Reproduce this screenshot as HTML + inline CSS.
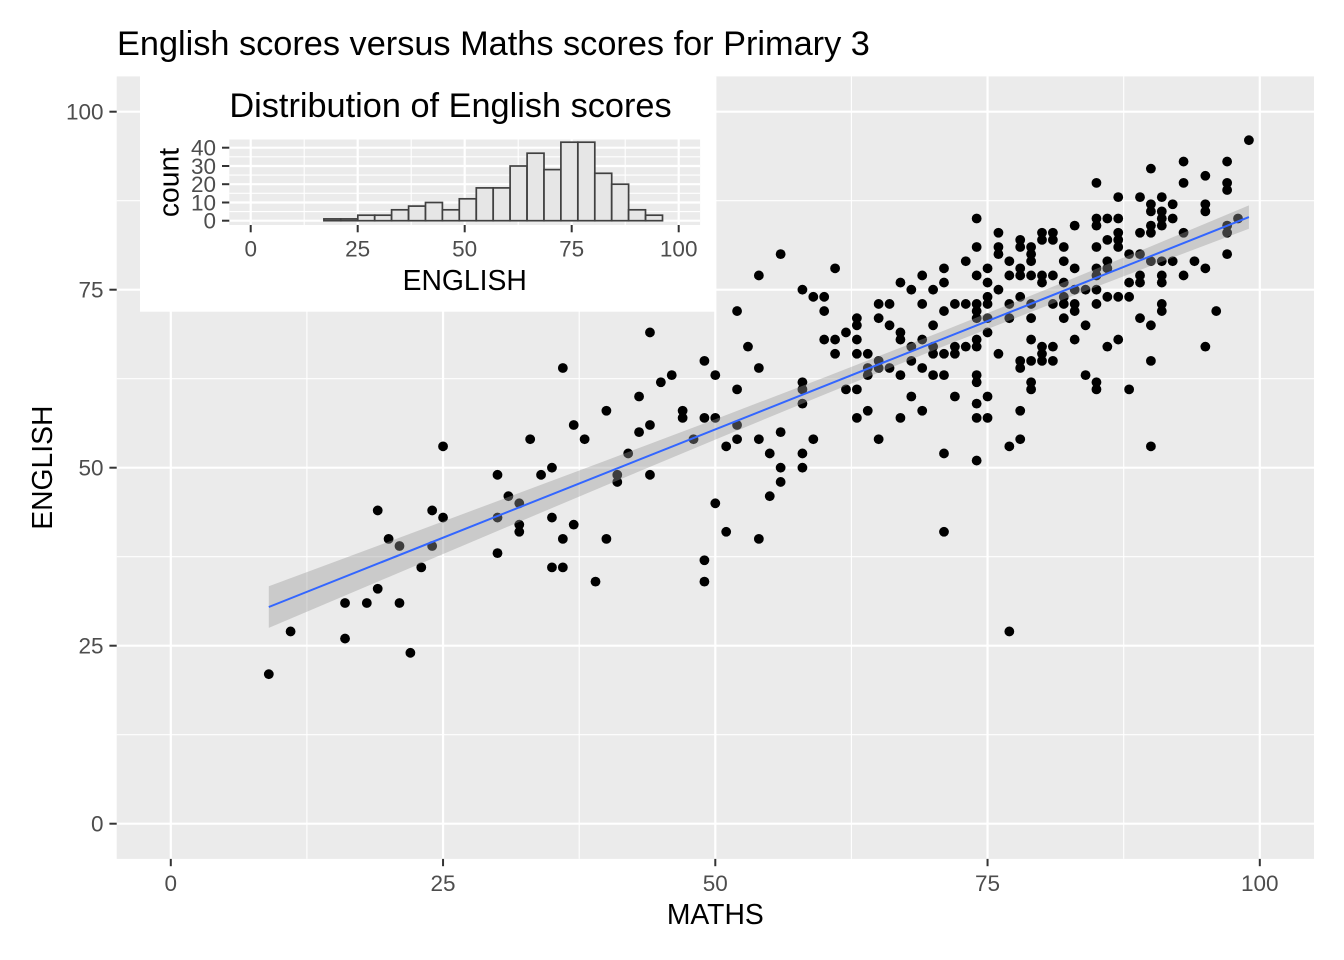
<!DOCTYPE html>
<html><head><meta charset="utf-8"><style>
html,body{margin:0;padding:0;background:#fff}
svg{display:block}
text{font-family:"Liberation Sans",Arial,sans-serif}
</style></head><body>
<svg width="1344" height="960" viewBox="0 0 1344 960" xmlns="http://www.w3.org/2000/svg">
<defs><ellipse id="p" rx=".45" ry=".688" fill="#000"/></defs>
<rect width="1344" height="960" fill="#fff"/>
<!-- main panel -->
<rect x="116.7" y="76.4" width="1197.3" height="782.5" fill="#EBEBEB"/>
<g stroke="#fff" stroke-width="1.1">
<line x1="306.9" y1="76.4" x2="306.9" y2="858.9"/><line x1="579.2" y1="76.4" x2="579.2" y2="858.9"/><line x1="851.4" y1="76.4" x2="851.4" y2="858.9"/><line x1="1123.7" y1="76.4" x2="1123.7" y2="858.9"/>
<line x1="116.7" y1="734.7" x2="1314" y2="734.7"/><line x1="116.7" y1="556.7" x2="1314" y2="556.7"/><line x1="116.7" y1="378.7" x2="1314" y2="378.7"/><line x1="116.7" y1="200.7" x2="1314" y2="200.7"/>
</g>
<g stroke="#fff" stroke-width="2.2">
<line x1="170.8" y1="76.4" x2="170.8" y2="858.9"/><line x1="443.05" y1="76.4" x2="443.05" y2="858.9"/><line x1="715.3" y1="76.4" x2="715.3" y2="858.9"/><line x1="987.55" y1="76.4" x2="987.55" y2="858.9"/><line x1="1259.8" y1="76.4" x2="1259.8" y2="858.9"/>
<line x1="116.7" y1="823.7" x2="1314" y2="823.7"/><line x1="116.7" y1="645.7" x2="1314" y2="645.7"/><line x1="116.7" y1="467.7" x2="1314" y2="467.7"/><line x1="116.7" y1="289.7" x2="1314" y2="289.7"/><line x1="116.7" y1="111.7" x2="1314" y2="111.7"/>
</g>
<g transform="translate(170.8 823.7) scale(10.89 -7.12)">
<use href="#p" x="9" y="21"/><use href="#p" x="11" y="27"/><use href="#p" x="16" y="26"/><use href="#p" x="16" y="31"/><use href="#p" x="18" y="31"/><use href="#p" x="19" y="33"/><use href="#p" x="19" y="44"/><use href="#p" x="20" y="40"/><use href="#p" x="21" y="39"/><use href="#p" x="21" y="31"/><use href="#p" x="22" y="24"/><use href="#p" x="23" y="36"/><use href="#p" x="24" y="44"/><use href="#p" x="24" y="39"/><use href="#p" x="25" y="53"/><use href="#p" x="25" y="43"/><use href="#p" x="30" y="49"/><use href="#p" x="30" y="43"/><use href="#p" x="30" y="38"/><use href="#p" x="31" y="46"/><use href="#p" x="32" y="45"/><use href="#p" x="32" y="42"/><use href="#p" x="32" y="41"/><use href="#p" x="33" y="54"/><use href="#p" x="34" y="49"/><use href="#p" x="35" y="50"/><use href="#p" x="35" y="43"/><use href="#p" x="35" y="36"/><use href="#p" x="36" y="64"/><use href="#p" x="36" y="40"/><use href="#p" x="36" y="36"/><use href="#p" x="37" y="56"/><use href="#p" x="37" y="42"/><use href="#p" x="38" y="54"/><use href="#p" x="39" y="34"/><use href="#p" x="40" y="58"/><use href="#p" x="40" y="40"/><use href="#p" x="41" y="49"/><use href="#p" x="41" y="48"/><use href="#p" x="42" y="52"/><use href="#p" x="43" y="60"/><use href="#p" x="43" y="55"/>
<use href="#p" x="56" y="80"/><use href="#p" x="61" y="78"/><use href="#p" x="54" y="77"/><use href="#p" x="58" y="75"/><use href="#p" x="59" y="74"/><use href="#p" x="60" y="74"/><use href="#p" x="60" y="72"/><use href="#p" x="52" y="72"/><use href="#p" x="62" y="69"/><use href="#p" x="44" y="69"/><use href="#p" x="60" y="68"/><use href="#p" x="61" y="68"/><use href="#p" x="53" y="67"/><use href="#p" x="61" y="66"/><use href="#p" x="49" y="65"/><use href="#p" x="54" y="64"/><use href="#p" x="46" y="63"/><use href="#p" x="50" y="63"/><use href="#p" x="45" y="62"/><use href="#p" x="58" y="62"/><use href="#p" x="52" y="61"/><use href="#p" x="58" y="61"/><use href="#p" x="62" y="61"/><use href="#p" x="58" y="59"/><use href="#p" x="47" y="58"/><use href="#p" x="47" y="57"/><use href="#p" x="49" y="57"/><use href="#p" x="50" y="57"/><use href="#p" x="44" y="56"/><use href="#p" x="52" y="56"/><use href="#p" x="56" y="55"/><use href="#p" x="48" y="54"/><use href="#p" x="52" y="54"/><use href="#p" x="54" y="54"/><use href="#p" x="59" y="54"/><use href="#p" x="51" y="53"/><use href="#p" x="55" y="52"/><use href="#p" x="58" y="52"/><use href="#p" x="56" y="50"/><use href="#p" x="58" y="50"/><use href="#p" x="44" y="49"/><use href="#p" x="56" y="48"/><use href="#p" x="55" y="46"/><use href="#p" x="50" y="45"/><use href="#p" x="51" y="41"/><use href="#p" x="54" y="40"/><use href="#p" x="49" y="37"/><use href="#p" x="49" y="34"/>
<use href="#p" x="74" y="85"/><use href="#p" x="76" y="83"/><use href="#p" x="78" y="82"/><use href="#p" x="74" y="81"/><use href="#p" x="76" y="81"/><use href="#p" x="78" y="81"/><use href="#p" x="79" y="81"/><use href="#p" x="76" y="80"/><use href="#p" x="79" y="80"/><use href="#p" x="73" y="79"/><use href="#p" x="77" y="79"/><use href="#p" x="79" y="79"/><use href="#p" x="71" y="78"/><use href="#p" x="75" y="78"/><use href="#p" x="78" y="78"/><use href="#p" x="69" y="77"/><use href="#p" x="74" y="77"/><use href="#p" x="77" y="77"/><use href="#p" x="78" y="77"/><use href="#p" x="79" y="77"/><use href="#p" x="67" y="76"/><use href="#p" x="71" y="76"/><use href="#p" x="75" y="76"/><use href="#p" x="68" y="75"/><use href="#p" x="70" y="75"/><use href="#p" x="76" y="75"/><use href="#p" x="75" y="74"/><use href="#p" x="78" y="74"/><use href="#p" x="65" y="73"/><use href="#p" x="66" y="73"/><use href="#p" x="69" y="73"/><use href="#p" x="72" y="73"/><use href="#p" x="73" y="73"/><use href="#p" x="74" y="73"/><use href="#p" x="75" y="73"/><use href="#p" x="77" y="73"/><use href="#p" x="79" y="73"/><use href="#p" x="74" y="72"/><use href="#p" x="71" y="72"/><use href="#p" x="63" y="71"/><use href="#p" x="65" y="71"/><use href="#p" x="74" y="71"/><use href="#p" x="75" y="71"/><use href="#p" x="77" y="71"/><use href="#p" x="79" y="71"/><use href="#p" x="63" y="70"/><use href="#p" x="66" y="70"/><use href="#p" x="70" y="70"/><use href="#p" x="67" y="69"/><use href="#p" x="75" y="69"/><use href="#p" x="63" y="68"/><use href="#p" x="67" y="68"/><use href="#p" x="69" y="68"/><use href="#p" x="74" y="68"/><use href="#p" x="79" y="68"/><use href="#p" x="68" y="67"/><use href="#p" x="70" y="67"/><use href="#p" x="72" y="67"/><use href="#p" x="73" y="67"/><use href="#p" x="74" y="67"/><use href="#p" x="63" y="66"/><use href="#p" x="64" y="66"/><use href="#p" x="70" y="66"/><use href="#p" x="71" y="66"/><use href="#p" x="72" y="66"/><use href="#p" x="76" y="66"/><use href="#p" x="64" y="64"/><use href="#p" x="64" y="63"/><use href="#p" x="65" y="65"/><use href="#p" x="65" y="64"/><use href="#p" x="66" y="64"/><use href="#p" x="68" y="65"/><use href="#p" x="69" y="64"/><use href="#p" x="67" y="63"/><use href="#p" x="70" y="63"/><use href="#p" x="71" y="63"/><use href="#p" x="74" y="63"/><use href="#p" x="74" y="62"/><use href="#p" x="78" y="65"/><use href="#p" x="78" y="64"/><use href="#p" x="79" y="65"/><use href="#p" x="79" y="62"/><use href="#p" x="79" y="61"/><use href="#p" x="63" y="61"/><use href="#p" x="68" y="60"/><use href="#p" x="72" y="60"/><use href="#p" x="75" y="60"/><use href="#p" x="74" y="59"/><use href="#p" x="64" y="58"/><use href="#p" x="69" y="58"/><use href="#p" x="78" y="58"/><use href="#p" x="63" y="57"/><use href="#p" x="67" y="57"/><use href="#p" x="74" y="57"/><use href="#p" x="75" y="57"/><use href="#p" x="65" y="54"/><use href="#p" x="78" y="54"/><use href="#p" x="77" y="53"/><use href="#p" x="71" y="52"/><use href="#p" x="74" y="51"/><use href="#p" x="71" y="41"/><use href="#p" x="77" y="27"/>
<use href="#p" x="99" y="96"/><use href="#p" x="93" y="93"/><use href="#p" x="97" y="93"/><use href="#p" x="90" y="92"/><use href="#p" x="95" y="91"/><use href="#p" x="85" y="90"/><use href="#p" x="93" y="90"/><use href="#p" x="97" y="90"/><use href="#p" x="97" y="89"/><use href="#p" x="87" y="88"/><use href="#p" x="89" y="88"/><use href="#p" x="91" y="88"/><use href="#p" x="90" y="87"/><use href="#p" x="92" y="87"/><use href="#p" x="95" y="87"/><use href="#p" x="90" y="86"/><use href="#p" x="91" y="86"/><use href="#p" x="95" y="86"/><use href="#p" x="85" y="85"/><use href="#p" x="86" y="85"/><use href="#p" x="87" y="85"/><use href="#p" x="91" y="85"/><use href="#p" x="92" y="85"/><use href="#p" x="98" y="85"/><use href="#p" x="83" y="84"/><use href="#p" x="85" y="84"/><use href="#p" x="90" y="84"/><use href="#p" x="91" y="84"/><use href="#p" x="97" y="84"/><use href="#p" x="80" y="83"/><use href="#p" x="81" y="83"/><use href="#p" x="87" y="83"/><use href="#p" x="89" y="83"/><use href="#p" x="90" y="83"/><use href="#p" x="93" y="83"/><use href="#p" x="97" y="83"/><use href="#p" x="80" y="82"/><use href="#p" x="81" y="82"/><use href="#p" x="86" y="82"/><use href="#p" x="87" y="82"/><use href="#p" x="82" y="81"/><use href="#p" x="85" y="81"/><use href="#p" x="87" y="81"/><use href="#p" x="88" y="80"/><use href="#p" x="89" y="80"/><use href="#p" x="97" y="80"/><use href="#p" x="82" y="79"/><use href="#p" x="86" y="79"/><use href="#p" x="90" y="79"/><use href="#p" x="91" y="79"/><use href="#p" x="92" y="79"/><use href="#p" x="94" y="79"/><use href="#p" x="83" y="78"/><use href="#p" x="85" y="78"/><use href="#p" x="86" y="78"/><use href="#p" x="95" y="78"/><use href="#p" x="80" y="77"/><use href="#p" x="81" y="77"/><use href="#p" x="85" y="77"/><use href="#p" x="89" y="77"/><use href="#p" x="91" y="77"/><use href="#p" x="93" y="77"/><use href="#p" x="80" y="76"/><use href="#p" x="82" y="76"/><use href="#p" x="88" y="76"/><use href="#p" x="89" y="76"/><use href="#p" x="91" y="76"/><use href="#p" x="83" y="75"/><use href="#p" x="84" y="75"/><use href="#p" x="85" y="75"/><use href="#p" x="82" y="74"/><use href="#p" x="86" y="74"/><use href="#p" x="87" y="74"/><use href="#p" x="88" y="74"/><use href="#p" x="81" y="73"/><use href="#p" x="82" y="73"/><use href="#p" x="83" y="73"/><use href="#p" x="85" y="73"/><use href="#p" x="91" y="73"/><use href="#p" x="83" y="72"/><use href="#p" x="91" y="72"/><use href="#p" x="96" y="72"/><use href="#p" x="82" y="71"/><use href="#p" x="89" y="71"/><use href="#p" x="84" y="70"/><use href="#p" x="90" y="70"/><use href="#p" x="83" y="68"/><use href="#p" x="87" y="68"/><use href="#p" x="80" y="67"/><use href="#p" x="81" y="67"/><use href="#p" x="86" y="67"/><use href="#p" x="95" y="67"/><use href="#p" x="80" y="66"/><use href="#p" x="80" y="65"/><use href="#p" x="81" y="65"/><use href="#p" x="90" y="65"/><use href="#p" x="84" y="63"/><use href="#p" x="85" y="62"/><use href="#p" x="85" y="61"/><use href="#p" x="88" y="61"/><use href="#p" x="90" y="53"/>
<polygon fill="#999999" fill-opacity="0.4" points="9,33.35 20,39.60 30,45.31 40,51.03 50,56.81 60,62.67 71,69.25 80,74.80 90,81.09 99,86.84 99,83.56 90,78.35 80,72.48 71,67.07 60,60.27 50,53.95 40,47.55 30,41.11 20,34.64 9,27.51"/>
</g>
<line x1="268.8" y1="607.0" x2="1248.9" y2="217.1" stroke="#3366FF" stroke-width="2"/>
<!-- main axes ticks -->
<g stroke="#333333" stroke-width="2">
<line x1="109.4" y1="823.7" x2="116.7" y2="823.7"/><line x1="109.4" y1="645.7" x2="116.7" y2="645.7"/><line x1="109.4" y1="467.7" x2="116.7" y2="467.7"/><line x1="109.4" y1="289.7" x2="116.7" y2="289.7"/><line x1="109.4" y1="111.7" x2="116.7" y2="111.7"/>
<line x1="170.8" y1="858.9" x2="170.8" y2="866.2"/><line x1="443.05" y1="858.9" x2="443.05" y2="866.2"/><line x1="715.3" y1="858.9" x2="715.3" y2="866.2"/><line x1="987.55" y1="858.9" x2="987.55" y2="866.2"/><line x1="1259.8" y1="858.9" x2="1259.8" y2="866.2"/>
</g>
<g fill="#4D4D4D" font-size="22.5" text-anchor="end">
<text x="103.5" y="831.7">0</text><text x="103.5" y="653.7">25</text><text x="103.5" y="475.7">50</text><text x="103.5" y="297.7">75</text><text x="103.5" y="119.7">100</text>
</g>
<g fill="#4D4D4D" font-size="22.5" text-anchor="middle">
<text x="170.8" y="891">0</text><text x="443.05" y="891">25</text><text x="715.3" y="891">50</text><text x="987.55" y="891">75</text><text x="1259.8" y="891">100</text>
</g>
<text x="715.3" y="924" font-size="28.3" text-anchor="middle" fill="#000">MATHS</text>
<text transform="translate(52 467.7) rotate(-90)" font-size="28.3" text-anchor="middle" fill="#000">ENGLISH</text>
<text x="117" y="55" font-size="34.3" fill="#000">English scores versus Maths scores for Primary 3</text>
<!-- inset -->
<rect x="140" y="75" width="574.5" height="236.7" fill="#fff"/>
<text x="450.5" y="117" font-size="34.3" text-anchor="middle" fill="#000">Distribution of English scores</text>
<rect x="229.3" y="139.5" width="470.8" height="85.5" fill="#EBEBEB"/>
<g stroke="#fff" stroke-width="1.1">
<line x1="229.3" y1="211.6" x2="700.1" y2="211.6"/><line x1="229.3" y1="193.3" x2="700.1" y2="193.3"/><line x1="229.3" y1="175.1" x2="700.1" y2="175.1"/><line x1="229.3" y1="156.8" x2="700.1" y2="156.8"/>
<line x1="304.2" y1="139.5" x2="304.2" y2="225"/><line x1="411.2" y1="139.5" x2="411.2" y2="225"/><line x1="518.2" y1="139.5" x2="518.2" y2="225"/><line x1="625.2" y1="139.5" x2="625.2" y2="225"/>
</g>
<g stroke="#fff" stroke-width="2.2">
<line x1="229.3" y1="220.7" x2="700.1" y2="220.7"/><line x1="229.3" y1="202.5" x2="700.1" y2="202.5"/><line x1="229.3" y1="184.2" x2="700.1" y2="184.2"/><line x1="229.3" y1="166.0" x2="700.1" y2="166.0"/><line x1="229.3" y1="147.7" x2="700.1" y2="147.7"/>
<line x1="250.7" y1="139.5" x2="250.7" y2="225"/><line x1="357.7" y1="139.5" x2="357.7" y2="225"/><line x1="464.7" y1="139.5" x2="464.7" y2="225"/><line x1="571.7" y1="139.5" x2="571.7" y2="225"/><line x1="678.7" y1="139.5" x2="678.7" y2="225"/>
</g>
<g fill="#E6E6E6" stroke="#404040" stroke-width="1.7">
<rect x="323.9" y="218.9" width="16.9" height="1.8"/>
<rect x="340.8" y="218.9" width="16.9" height="1.8"/>
<rect x="357.8" y="215.2" width="16.9" height="5.5"/>
<rect x="374.7" y="215.2" width="16.9" height="5.5"/>
<rect x="391.6" y="209.8" width="16.9" height="10.9"/>
<rect x="408.6" y="206.1" width="16.9" height="14.6"/>
<rect x="425.5" y="202.5" width="16.9" height="18.2"/>
<rect x="442.4" y="209.8" width="16.9" height="10.9"/>
<rect x="459.3" y="198.8" width="16.9" height="21.9"/>
<rect x="476.3" y="187.9" width="16.9" height="32.8"/>
<rect x="493.2" y="187.9" width="16.9" height="32.8"/>
<rect x="510.1" y="166.0" width="16.9" height="54.7"/>
<rect x="527.1" y="153.2" width="16.9" height="67.5"/>
<rect x="544.0" y="169.6" width="16.9" height="51.1"/>
<rect x="560.9" y="142.2" width="16.9" height="78.5"/>
<rect x="577.9" y="142.2" width="16.9" height="78.5"/>
<rect x="594.8" y="173.3" width="16.9" height="47.4"/>
<rect x="611.7" y="184.2" width="16.9" height="36.5"/>
<rect x="628.6" y="209.8" width="16.9" height="10.9"/>
<rect x="645.6" y="215.2" width="16.9" height="5.5"/>
</g>
<g stroke="#333333" stroke-width="2">
<line x1="222" y1="220.7" x2="229.3" y2="220.7"/><line x1="222" y1="202.5" x2="229.3" y2="202.5"/><line x1="222" y1="184.2" x2="229.3" y2="184.2"/><line x1="222" y1="166.0" x2="229.3" y2="166.0"/><line x1="222" y1="147.7" x2="229.3" y2="147.7"/>
<line x1="250.7" y1="225" x2="250.7" y2="232.3"/><line x1="357.7" y1="225" x2="357.7" y2="232.3"/><line x1="464.7" y1="225" x2="464.7" y2="232.3"/><line x1="571.7" y1="225" x2="571.7" y2="232.3"/><line x1="678.7" y1="225" x2="678.7" y2="232.3"/>
</g>
<g fill="#4D4D4D" font-size="22.5" text-anchor="end">
<text x="216" y="228.7">0</text><text x="216" y="210.5">10</text><text x="216" y="192.2">20</text><text x="216" y="174.0">30</text><text x="216" y="155.7">40</text>
</g>
<g fill="#4D4D4D" font-size="22.5" text-anchor="middle">
<text x="250.7" y="256.7">0</text><text x="357.7" y="256.7">25</text><text x="464.7" y="256.7">50</text><text x="571.7" y="256.7">75</text><text x="678.7" y="256.7">100</text>
</g>
<text transform="translate(178.3 182.5) rotate(-90)" font-size="28.3" text-anchor="middle" fill="#000">count</text>
<text x="464.7" y="290" font-size="28.3" text-anchor="middle" fill="#000">ENGLISH</text>
</svg>
</body></html>
